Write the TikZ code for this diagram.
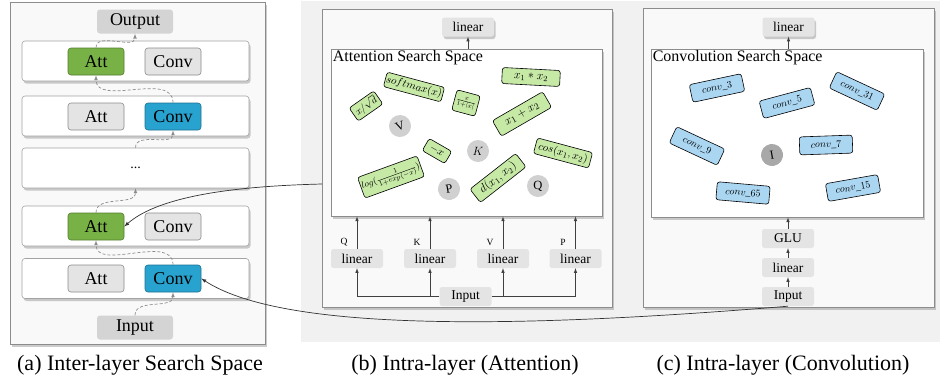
\documentclass[tikz,border=0pt]{standalone}
\usepackage{fontspec}
\setmainfont{Liberation Serif}
\usetikzlibrary{shadows}
\definecolor{attgreen}{RGB}{120,178,70}
\definecolor{convblue}{RGB}{40,163,207}
\definecolor{opgreen}{RGB}{198,233,166}
\definecolor{opblue}{RGB}{170,214,242}
\definecolor{bggray}{RGB}{241,241,241}
\definecolor{panelgray}{RGB}{249,249,249}
\definecolor{boxgray}{RGB}{228,228,228}
\definecolor{iogray}{RGB}{212,212,212}
\definecolor{vargray}{RGB}{208,208,208}
\definecolor{idgray}{RGB}{168,168,168}
\definecolor{edgegray}{RGB}{140,140,140}
\tikzset{
  shadowed/.style={drop shadow={shadow xshift=1.5pt,shadow yshift=-2.5pt,opacity=0.4}},
  panel/.style={fill=panelgray,draw=edgegray,line width=0.8pt,shadowed},
  row/.style={fill=white,draw=edgegray!80,line width=0.6pt,rounded corners=3pt,minimum width=227pt,minimum height=40pt,shadowed,font=\fontsize{14}{16}\selectfont},
  blk/.style={rounded corners=3pt,minimum width=56pt,minimum height=27pt,inner sep=0pt,line width=0.6pt,font=\fontsize{18}{20}\selectfont},
  attsel/.style={blk,fill=attgreen,draw=attgreen!70!black},
  convsel/.style={blk,fill=convblue,draw=convblue!70!black},
  blkoff/.style={blk,fill=boxgray,draw=edgegray},
  io/.style={fill=iogray,rounded corners=3pt,minimum width=76pt,minimum height=24pt,inner sep=0pt,font=\fontsize{18}{20}\selectfont},
  flow/.style={draw=edgegray,dashed,dash pattern=on 3pt off 2pt,line width=0.7pt,-latex},
  space/.style={fill=white,draw=edgegray,line width=0.8pt,shadowed},
  title/.style={anchor=north west,inner sep=2pt,font=\fontsize{16}{18}\selectfont},
  lin/.style={fill=boxgray,rounded corners=2.5pt,minimum width=52pt,minimum height=19pt,inner sep=0pt,font=\fontsize{13.5}{15}\selectfont},
  arr/.style={draw=black!75,line width=0.6pt,-latex},
  op/.style={draw=black,line width=0.6pt,rounded corners=2.5pt,inner sep=1pt,font=\fontsize{11}{13}\selectfont},
  attop/.style={op,fill=opgreen},
  convop/.style={op,fill=opblue,minimum width=53pt,minimum height=18pt,font=\fontsize{10}{12}\selectfont},
  var/.style={circle,fill=vargray,minimum size=22pt,inner sep=0pt,font=\fontsize{12.5}{14}\selectfont},
  link/.style={draw=black!80,line width=0.7pt,-latex},
  subcap/.style={font=\fontsize{22}{26}\selectfont}
}
\begin{document}
\begin{tikzpicture}[x=1pt,y=1pt]
\useasboundingbox (0,0) rectangle (940,-384);
\draw[panel] (10,-2) rectangle (265,-344);
\node[io] (outa) at (135,-21.5) {Output};
\node[row] (r1) at (135.5,-61) {};
\node[row] (r2) at (135.5,-116) {};
\node[row] (r3) at (135.5,-168) {...};
\node[row] (r4) at (135.5,-226) {};
\node[row] (r5) at (135.5,-278.5) {};
\node[io] (ina) at (135,-327.5) {Input};
\node[attsel] (a1) at (96,-61.5) {Att};
\node[blkoff] (c1) at (173,-61.5) {Conv};
\node[blkoff] (a2) at (96,-116.5) {Att};
\node[convsel] (c2) at (173,-116.5) {Conv};
\node[attsel] (a4) at (96,-226.5) {Att};
\node[blkoff] (c4) at (173,-226.5) {Conv};
\node[blkoff] (a5) at (96,-278.5) {Att};
\node[convsel] (c5) at (173,-278.5) {Conv};
\draw[flow] (ina.north) to[out=90,in=-90] (c5.south);
\draw[flow] (c5.north) to[out=90,in=-90] (a4.south);
\draw[flow] (a4.north) to[out=90,in=-90] (r3.south);
\draw[flow] (r3.north) to[out=90,in=-90] (c2.south);
\draw[flow] (c2.north) to[out=90,in=-90] (a1.south);
\draw[flow] (a1.north) to[out=90,in=-90] (outa.south);
\node[subcap] (capa) at (140,-365) {(a) Inter-layer Search Space};

\fill[bggray] (301,-1) rectangle (940,-342);
\draw[panel] (322,-9) rectangle (612,-307);
\draw[panel] (643,-8) rectangle (934,-307);

\node[lin,shadowed] (tlb) at (468,-27) {linear};
\node[space,minimum width=271pt,minimum height=167pt] (att) at (466.5,-132.5) {};
\node[title] (attt) at (att.north west) {Attention Search Space};
\node[attop,rotate=35,minimum width=30pt,minimum height=16pt,font=\fontsize{10}{12}\selectfont] (o1) at (366,-106) {$x/\sqrt{d}$};
\node[attop,rotate=-15,minimum width=52pt,minimum height=15pt,font=\fontsize{10.5}{12}\selectfont] (o2) at (414,-87) {$softmax(x)$};
\node[attop,rotate=-15,minimum width=24pt,minimum height=21pt,font=\fontsize{9}{10}\selectfont] (o3) at (466,-103) {$\frac{x}{1+|x|}$};
\node[attop,rotate=-3,minimum width=58pt,minimum height=16pt,font=\fontsize{12}{14}\selectfont] (o4) at (531,-77) {$x_1 * x_2$};
\node[attop,rotate=30,minimum width=58pt,minimum height=18pt,font=\fontsize{12.5}{14}\selectfont] (o5) at (522,-114) {$x_1 + x_2$};
\node[attop,rotate=-30,minimum width=26pt,minimum height=14pt] (o6) at (437,-151) {$-x$};
\node[attop,rotate=-15,minimum width=57pt,minimum height=16pt] (o7) at (563,-153) {$cos(x_1,x_2)$};
\node[attop,rotate=20,minimum width=56pt,minimum height=22pt,font=\fontsize{9.5}{11}\selectfont] (o8) at (391,-177) {$log(\frac{1}{1+exp(-x)})$};
\node[attop,rotate=38,minimum width=58pt,minimum height=17pt,font=\fontsize{12}{14}\selectfont] (o9) at (498,-178) {$d(x_1,x_2)$};
\node[var,rotate=20] (vv) at (400,-126) {V};
\node[var] (vk) at (478,-151) {$K$};
\node[var,rotate=10] (vp) at (449,-189) {P};
\node[var] (vq) at (538,-186) {Q};
\draw[arr] (tlb.south |- att.north) -- (tlb.south);

\node[lin] (lq) at (357,-258.5) {linear};
\node[lin] (lk) at (430,-258.5) {linear};
\node[lin] (lv) at (503,-258.5) {linear};
\node[lin] (lp) at (575.5,-258.5) {linear};
\node[lin] (inb) at (465.5,-296.5) {Input};
\node[font=\fontsize{9.5}{11}\selectfont] (tq) at (344,-242) {Q};
\node[font=\fontsize{9.5}{11}\selectfont] (tk) at (417,-242) {K};
\node[font=\fontsize{9.5}{11}\selectfont] (tv) at (490,-242) {V};
\node[font=\fontsize{9.5}{11}\selectfont] (tp) at (563,-242) {P};
\draw[arr] (inb.west) -| (lq.south);
\draw[arr] (inb.east) -| (lp.south);
\draw[arr] (inb.west -| lk.south) -- (lk.south);
\draw[arr] (inb.east -| lv.south) -- (lv.south);
\draw[arr] (lq.north) -- (lq.north |- att.south);
\draw[arr] (lk.north) -- (lk.north |- att.south);
\draw[arr] (lv.north) -- (lv.north |- att.south);
\draw[arr] (lp.north) -- (lp.north |- att.south);
\node[subcap] (capb) at (465,-365) {(b) Intra-layer (Attention)};

\node[lin,shadowed] (tlc) at (788.5,-27) {linear};
\node[space,minimum width=272pt,minimum height=168pt] (cnv) at (787,-133) {};
\node[title] (cnvt) at (cnv.north west) {Convolution Search Space};
\node[convop,rotate=12] (k3) at (717,-88) {$conv\_3$};
\node[convop,rotate=15] (k5) at (787,-103) {$conv\_5$};
\node[convop,rotate=-25] (k31) at (857,-91) {$conv\_31$};
\node[convop,rotate=-25] (k9) at (697,-146) {$conv\_9$};
\node[convop,rotate=2] (k7) at (826,-145) {$conv\_7$};
\node[convop,rotate=-5] (k65) at (743,-193) {$conv\_65$};
\node[convop,rotate=10] (k15) at (853,-188) {$conv\_15$};
\node[var,fill=idgray,rotate=10] (vi) at (772,-155) {I};
\node[lin] (glu) at (788,-238.5) {GLU};
\node[lin] (lc) at (788,-267.5) {linear};
\node[lin] (inc) at (788,-296.5) {Input};
\draw[arr] (inc.north) -- (lc.south);
\draw[arr] (lc.north) -- (glu.south);
\draw[arr] (glu.north) -- (glu.north |- cnv.south);
\draw[arr] (tlc.south |- cnv.north) -- (tlc.south);
\node[subcap] (capc) at (783,-365) {(c) Intra-layer (Convolution)};

\coordinate (pbw) at (322,-184);
\draw[link] (pbw) .. controls (240,-186) and (160,-195) .. (a4.east);
\draw[link] (inc.south) .. controls (500,-330) and (280,-330) .. (c5.east);
\end{tikzpicture}
\end{document}
